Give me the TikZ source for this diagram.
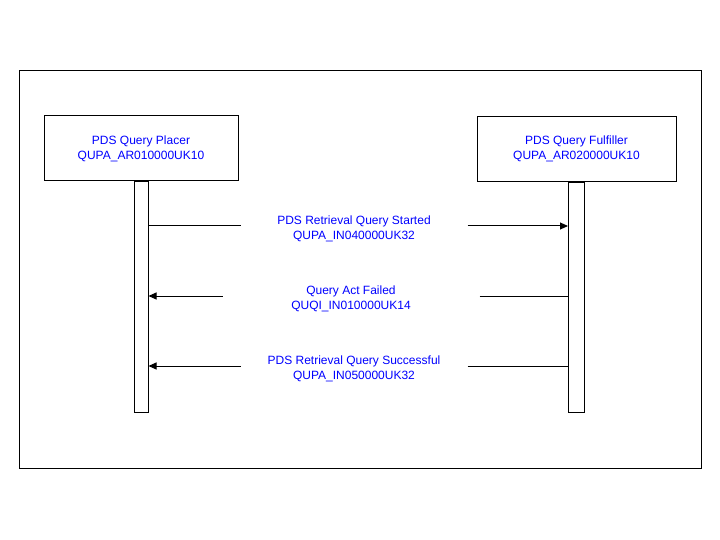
\documentclass[tikz,border=0pt]{standalone}
\usepackage{fontspec}
\setmainfont{Liberation Sans}
\usetikzlibrary{arrows.meta}

\begin{document}
\begin{tikzpicture}[x=1pt, y=-1pt, line width=1pt,
        >={Triangle[length=8pt,width=7pt]},
        role/.style={draw, minimum width=#1, minimum height=65pt, align=center,
            text=blue, font=\fontsize{12}{15}\selectfont},
        life/.style={draw, minimum width=#1, minimum height=230pt, anchor=north},
        msg/.style={minimum width=#1, inner sep=0pt, align=center, yshift=-2.5pt,
            text=blue, font=\fontsize{12}{15}\selectfont}]
        \useasboundingbox (0,0) rectangle (720,540);
        \draw (19,71) rectangle (701,468);
        \node[role=194pt] (placer) at (141,148.5) {PDS Query Placer\\QUPA\_AR010000UK10};
        \node[role=199pt] (fulfiller) at (576.5,149) {PDS Query Fulfiller\\QUPA\_AR020000UK10};
        \node[life=14pt] (placerLife) at (placer.south) {};
        \node[life=16pt] (fulfillerLife) at (fulfiller.south) {};
        \foreach \i/\x/\y/\gapw/\lt/\rt/\txt in {
                1/354/226/226pt/-/->/{PDS Retrieval Query Started\\QUPA\_IN040000UK32},
                2/351/296/256pt/->/-/{Query Act Failed\\QUQI\_IN010000UK14},
                3/354/366/226pt/->/-/{PDS Retrieval Query Successful\\QUPA\_IN050000UK32}}{
            \node[msg=\gapw] (m\i) at (\x,\y) {\txt};
            \draw[\lt] (m\i.west |- 0,\y) -- (placerLife.east |- 0,\y);
            \draw[\rt] (m\i.east |- 0,\y) -- (fulfillerLife.west |- 0,\y);
        }
    \end{tikzpicture}
\end{document}
